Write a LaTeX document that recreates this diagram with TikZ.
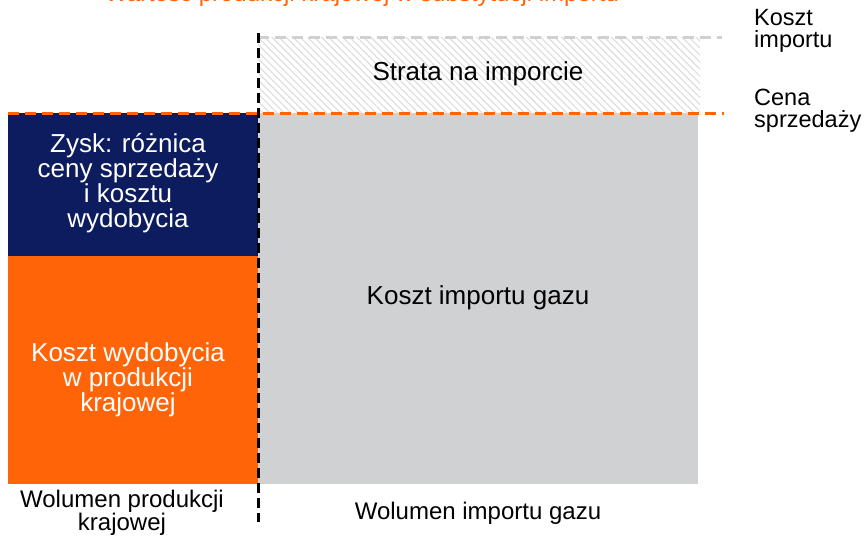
\documentclass[tikz,border=0pt]{standalone}
\usepackage{fontspec}
\setmainfont{Liberation Sans}
\usetikzlibrary{patterns.meta}
\definecolor{navy}{HTML}{0C1C5E}
\definecolor{orng}{HTML}{FF6508}
\definecolor{boxgray}{HTML}{D0D1D3}
\definecolor{dashgray}{HTML}{D0D0D0}
\definecolor{hatch}{HTML}{DCDCDC}
\tikzset{
  x=1pt, y=-1pt,
  lbl/.style={font=\fontsize{26}{25}\selectfont, align=center, inner sep=0pt},
  slbl/.style={font=\fontsize{24}{22}\selectfont, align=center, inner sep=0pt},
  rlbl/.style={font=\fontsize{23.5}{22}\selectfont, align=left, anchor=west, inner sep=0pt},
  wlbl/.style={lbl, text=white},
  odash/.style={draw=orng, line width=3pt, dash pattern=on 11pt off 6pt},
  gdash/.style={draw=dashgray, line width=3pt, dash pattern=on 11pt off 6pt},
  kdash/.style={draw=black, line width=3pt, dash pattern=on 10pt off 5pt},
}
\begin{document}
\begin{tikzpicture}
\useasboundingbox (0,0) rectangle (864,536);
\begin{scope}
\clip (0,0) rectangle (864,536);
\node[font=\fontsize{24}{28}\selectfont, text=orng, anchor=base, inner sep=0pt] (title) at (362,1) {Wartość produkcji krajowej w substytucji importu};
\end{scope}
% boxes
\fill[navy] (8,113) rectangle (258,256);
\fill[orng] (8,256) rectangle (258,484);
\fill[boxgray] (258,113) rectangle (698,484);
\fill[pattern={Lines[angle=-45,distance=5pt,line width=1.1pt]}, pattern color=hatch] (258,37) rectangle (700,113);
% coordinates for lines
\coordinate (gs) at (258,37);
\coordinate (ge) at (722,37);
\coordinate (os) at (8,113);
\coordinate (oe) at (724,113);
\coordinate (ks) at (258,33);
\coordinate (ke) at (258,522);
\draw[gdash] (gs) -- (ge);
\draw[odash] (os) -- (oe);
\draw[kdash] (ks) -- (ke);
% labels
\node[lbl] (strata) at (478,74) {Strata na imporcie};
\node[wlbl] (zysk) at (128,183) {Zysk: różnica\\ceny sprzedaży\\i kosztu\\wydobycia};
\node[wlbl] (kwyd) at (128,380) {Koszt wydobycia\\w produkcji\\krajowej};
\node[lbl] (kimp) at (478,298) {Koszt importu gazu};
\node[slbl] (wprod) at (122,513) {Wolumen produkcji\\krajowej};
\node[slbl] (wimp) at (478,513) {Wolumen importu gazu};
\node[rlbl] (kost) at (754,31) {Koszt\\importu};
\node[rlbl] (cena) at (754,111) {Cena\\sprzedaży};
\end{tikzpicture}
\end{document}
